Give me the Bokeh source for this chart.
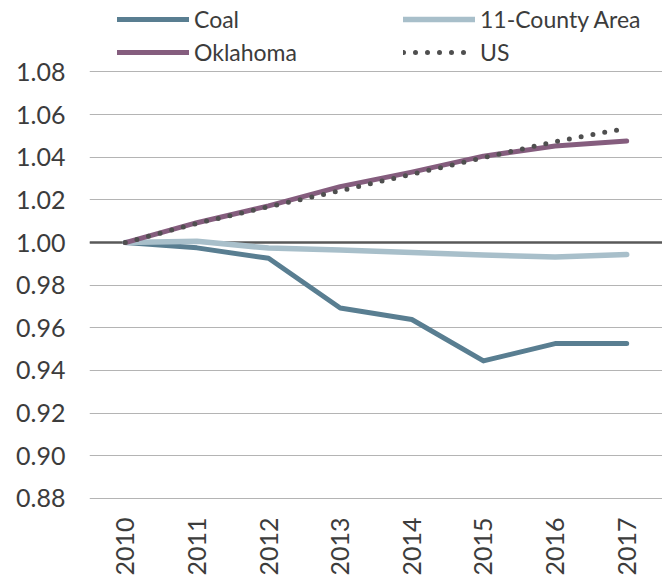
from math import pi
from bokeh.plotting import figure
from bokeh.models import (Range1d, FixedTicker, Span, Legend, LegendItem, ColumnDataSource,
                          CustomJSTickFormatter)
from bokeh.embed import file_html
from bokeh.resources import INLINE

years = [2010, 2011, 2012, 2013, 2014, 2015, 2016, 2017]
coal = [1.000, 0.9975, 0.9926, 0.9693, 0.9639, 0.9445, 0.9526, 0.9526]
county11 = [1.000, 1.0006, 0.9974, 0.9965, 0.9953, 0.9941, 0.9932, 0.9944]
oklahoma = [1.000, 1.0093, 1.0172, 1.0262, 1.0330, 1.0405, 1.0453, 1.0476]
us = [1.000, 1.0090, 1.0168, 1.0243, 1.0320, 1.0398, 1.0473, 1.0536]
y_ticks = [0.88, 0.90, 0.92, 0.94, 0.96, 0.98, 1.00, 1.02, 1.04, 1.06, 1.08]

FONT = "Lato"
TXT = "#3c3c3c"

p = figure(width=662, height=578, output_backend="svg", toolbar_location=None,
           x_range=Range1d(2009.5, 2017.5), y_range=Range1d(0.8795, 1.1135),
           min_border_left=89, min_border_right=0, min_border_top=0, min_border_bottom=75)
p.outline_line_color = None
p.background_fill_color = "white"
p.border_fill_color = "white"

p.xaxis.ticker = FixedTicker(ticks=years)
p.yaxis.ticker = FixedTicker(ticks=y_ticks)
p.yaxis.formatter = CustomJSTickFormatter(code="return tick.toFixed(2);")
for ax in (p.xaxis[0], p.yaxis[0]):
    ax.axis_line_color = None
    ax.major_tick_line_color = None
    ax.minor_tick_line_color = None
    ax.major_tick_out = 0
    ax.major_tick_in = 0
    ax.minor_tick_out = 0
    ax.minor_tick_in = 0
    ax.major_label_text_font = FONT
    ax.major_label_text_color = TXT
    ax.major_label_text_font_size = "25px"
p.yaxis.major_label_standoff = 24
p.xaxis.major_label_orientation = pi / 2
p.xaxis.major_label_standoff = 18

p.xgrid.grid_line_color = None
p.ygrid.grid_line_color = "#b4b4b4"
p.ygrid.grid_line_width = 1.2

base = Span(location=1.0, dimension="width", line_color="#595959", line_width=2.5, level="underlay")
p.add_layout(base)

src = ColumnDataSource(dict(year=years, coal=coal, county11=county11, oklahoma=oklahoma, us=us))
r_coal = p.line("year", "coal", source=src, line_color="#597e91", line_width=5, line_cap="round", line_join="round")
r_cty = p.line("year", "county11", source=src, line_color="#a8bfca", line_width=5.5, line_cap="round", line_join="round")
r_ok = p.line("year", "oklahoma", source=src, line_color="#855d7e", line_width=5, line_cap="round", line_join="round")
r_us = p.line("year", "us", source=src, line_color="#4f4f4f", line_width=5, line_cap="round", line_dash="0 12")

def mk_legend(items, x, y):
    return Legend(items=items, location=(x, y), orientation="vertical",
                  glyph_width=72, glyph_height=24, label_height=24, label_standoff=5,
                  spacing=5, padding=0, margin=0, border_line_color=None,
                  background_fill_alpha=0, label_text_font=FONT,
                  label_text_font_size="23px", label_text_color=TXT)

lg1 = mk_legend([LegendItem(label="Coal", renderers=[r_coal]),
                 LegendItem(label="Oklahoma", renderers=[r_ok])], 28, 433)
lg2 = mk_legend([LegendItem(label="11-County Area", renderers=[r_cty]),
                 LegendItem(label="US", renderers=[r_us])], 314, 433)
p.add_layout(lg1, "center")
p.add_layout(lg2, "center")

open("out.html", "w").write(file_html(p, INLINE))
